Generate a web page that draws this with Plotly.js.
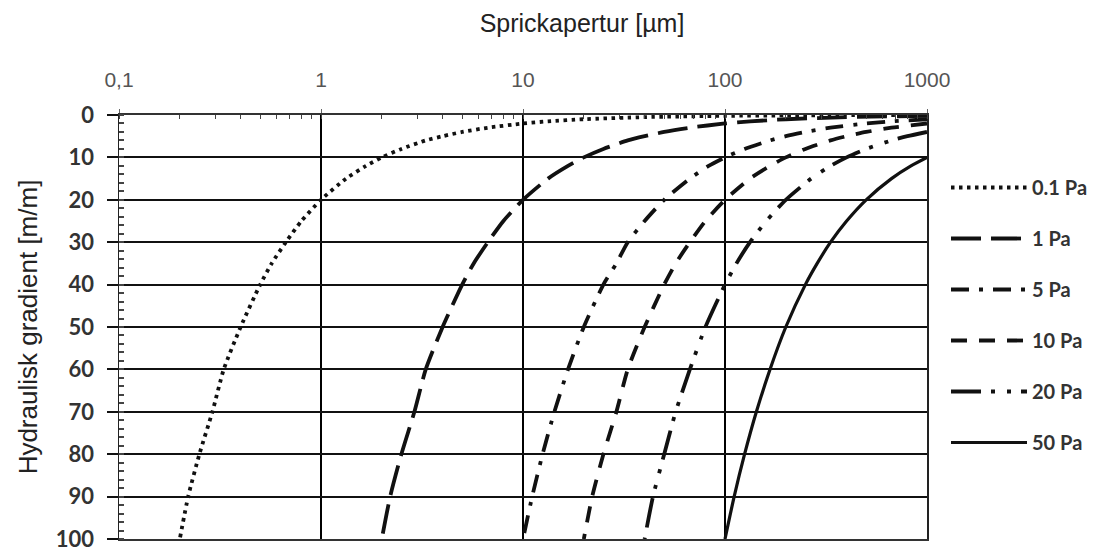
<!DOCTYPE html>
<html>
<head>
<meta charset="utf-8">
<script src="https://cdn.plot.ly/plotly-3.0.1.min.js"></script>
<style>html,body{margin:0;padding:0;background:#fff;}</style>
</head>
<body>
<div id="chart" style="width:1104px;height:553px;"></div>
<script>
// Hydraulic gradient [m/m] (y) and fracture aperture [µm] (x)
const seriesNames = ['0.1 Pa', '1 Pa', '5 Pa', '10 Pa', '20 Pa', '50 Pa'];

const grad01 = [0.02, 0.05, 0.1, 0.2, 0.5, 1, 1.5, 2, 3, 4, 5, 6, 8, 10, 12, 15, 20, 25, 30, 35, 40, 50, 60, 70, 80, 90, 100];
const ap01   = [1000, 400, 200, 100, 40, 20, 13.3, 10, 6.7, 5, 4, 3.3, 2.5, 2, 1.67, 1.33, 1, 0.8, 0.67, 0.57, 0.5, 0.4, 0.33, 0.29, 0.25, 0.22, 0.2];

const grad1 = [0.2, 0.5, 1, 1.5, 2, 3, 4, 5, 6, 8, 10, 12, 15, 20, 25, 30, 35, 40, 50, 60, 70, 80, 90, 100];
const ap1   = [1000, 400, 200, 133, 100, 67, 50, 40, 33, 25, 20, 16.7, 13.3, 10, 8, 6.7, 5.7, 5, 4, 3.3, 2.9, 2.5, 2.2, 2];

const grad5 = [1, 1.5, 2, 3, 4, 5, 6, 8, 10, 12, 15, 20, 25, 30, 35, 40, 50, 60, 70, 80, 90, 100];
const ap5   = [1000, 667, 500, 333, 250, 200, 167, 125, 100, 83, 67, 50, 40, 33, 29, 25, 20, 16.7, 14.3, 12.5, 11.1, 10];

const grad10 = [2, 3, 4, 5, 6, 8, 10, 12, 15, 20, 25, 30, 35, 40, 50, 60, 70, 80, 90, 100];
const ap10   = [1000, 667, 500, 400, 333, 250, 200, 167, 133, 100, 80, 67, 57, 50, 40, 33, 29, 25, 22, 20];

const grad20 = [4, 5, 6, 8, 10, 12, 15, 20, 25, 30, 35, 40, 50, 60, 70, 80, 90, 100];
const ap20   = [1000, 800, 667, 500, 400, 333, 267, 200, 160, 133, 114, 100, 80, 67, 57, 50, 44, 40];

const grad50 = [10, 12, 15, 20, 25, 30, 35, 40, 50, 60, 70, 80, 90, 100];
const ap50   = [1000, 833, 667, 500, 400, 333, 286, 250, 200, 167, 143, 125, 111, 100];

const xTickVals = [0.1, 1, 10, 100, 1000];
const xTickText = ['0,1', '1', '10', '100', '1000'];

const gradients = [grad01, grad1, grad5, grad10, grad20, grad50];
const apertures = [ap01, ap1, ap5, ap10, ap20, ap50];
const dashes = ['3.5px,4.5px', '30px,10px', '18px,10px,4px,10px', '16px,12px', '30px,10px,4px,12px,4px,10px', 'solid'];
const widths = [3.8, 3.8, 3.8, 3.8, 3.8, 3.2];

const traces = seriesNames.map((name, i) => ({
  type: 'scatter',
  mode: 'lines',
  name: name,
  x: apertures[i],
  y: gradients[i],
  legendgroup: 'g' + i,
  line: {color: '#111', width: widths[i], dash: dashes[i], shape: 'spline', smoothing: 0.6},
  hoverinfo: 'x+y+name'
}));

const layout = {
  width: 1104,
  height: 553,
  margin: {l: 119, r: 177, t: 115, b: 14},
  paper_bgcolor: '#fff',
  plot_bgcolor: '#fff',
  title: {
    text: 'Sprickapertur [µm]',
    x: 582 / 1104, xref: 'container', xanchor: 'center',
    y: 1 - 23 / 553, yref: 'container', yanchor: 'middle',
    font: {family: 'Liberation Sans, Arial, sans-serif', size: 25, color: '#222'}
  },
  xaxis: {
    type: 'log',
    side: 'top',
    range: [-1, 3],
    tickvals: xTickVals,
    ticktext: xTickText,
    tickfont: {family: 'Liberation Sans, Arial, sans-serif', size: 21, color: '#555'},
    ticks: 'outside', ticklen: 4, tickcolor: '#666', tickwidth: 1,
    ticklabelstandoff: 14,
    minor: {ticks: 'inside', ticklen: 4, tickcolor: '#444', dtick: 'D1', showgrid: false},
    showgrid: true, gridcolor: '#000', gridwidth: 1.5,
    showline: true, linecolor: '#333', linewidth: 2, mirror: true,
    zeroline: false
  },
  yaxis: {
    range: [100, 0],
    tick0: 0, dtick: 10,
    tickfont: {family: 'Lato, sans-serif', size: 22, color: '#333', weight: 'bold'},
    ticks: 'outside', ticklen: 11, tickwidth: 2, tickcolor: '#111',
    ticklabelstandoff: 8,
    minor: {ticks: 'inside', ticklen: 5, tickcolor: '#444', dtick: 2, showgrid: false},
    showgrid: true, gridcolor: '#111', gridwidth: 2,
    showline: true, linecolor: '#222', linewidth: 1.5, mirror: true,
    zeroline: false,
    title: {text: 'Hydraulisk gradient [m/m]', standoff: 10,
            font: {family: 'Liberation Sans, Arial, sans-serif', size: 26, color: '#222'}}
  },
  showlegend: true,
  legend: {
    xref: 'container', yref: 'container',
    x: 946 / 1104, y: 1 - 168 / 553, xanchor: 'left', yanchor: 'top',
    font: {family: 'Lato, sans-serif', size: 20, color: '#333', weight: 'bold'},
    itemwidth: 76,
    traceorder: 'grouped',
    tracegroupgap: 22,
    maxheight: 500,
    bgcolor: 'rgba(0,0,0,0)'
  }
};

Plotly.newPlot('chart', traces, layout, {displayModeBar: false, staticPlot: true});
</script>
</body>
</html>
